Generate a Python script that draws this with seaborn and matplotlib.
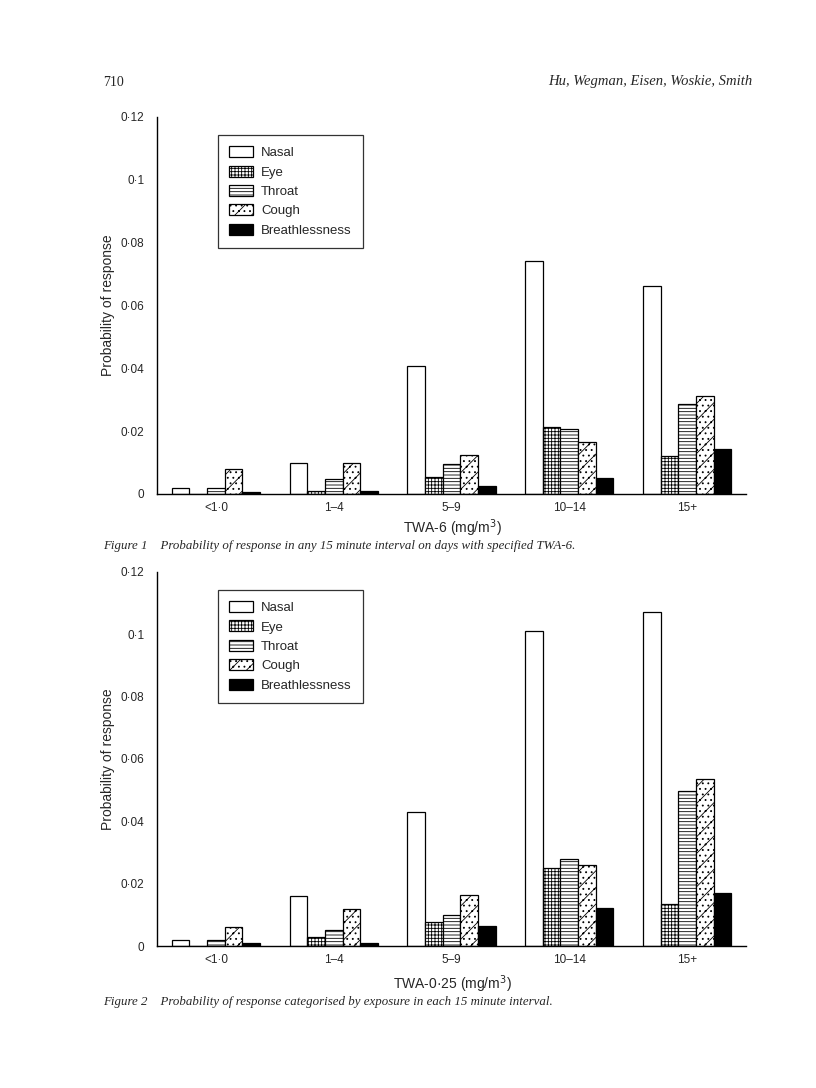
import pandas as pd
import matplotlib.pyplot as plt
import seaborn as sns
from matplotlib.patches import Patch
from matplotlib.ticker import FixedLocator

# Exposure groups and symptoms
exposure = ["<1·0", "1–4", "5–9", "10–14", "15+"]
symptoms = ["Nasal", "Eye", "Throat", "Cough", "Breathlessness"]

# Figure 1: TWA-6
fig1_nasal = [0.002, 0.010, 0.0407, 0.0743, 0.0663]
fig1_eye = [0.0, 0.001, 0.0055, 0.0212, 0.0122]
fig1_throat = [0.002, 0.0047, 0.0095, 0.0206, 0.0285]
fig1_cough = [0.0078, 0.0098, 0.0123, 0.0166, 0.0313]
fig1_breath = [0.0005, 0.0009, 0.0026, 0.0052, 0.0143]

# Figure 2: TWA-0.25
fig2_nasal = [0.002, 0.016, 0.0429, 0.1012, 0.1070]
fig2_eye = [0.0, 0.003, 0.0078, 0.0250, 0.0134]
fig2_throat = [0.002, 0.005, 0.0099, 0.0280, 0.0498]
fig2_cough = [0.0062, 0.0119, 0.0163, 0.0261, 0.0537]
fig2_breath = [0.001, 0.001, 0.0063, 0.0122, 0.0171]

yticks = [0, 0.02, 0.04, 0.06, 0.08, 0.1, 0.12]
ytick_labels = ["0", "0·02", "0·04", "0·06", "0·08", "0·1", "0·12"]

faces = ["white", "white", "white", "white", "black"]
hatches = ["", "+++++", "-----", "//...", ""]

sns.set_style("white")
plt.rcParams["font.family"] = ["Liberation Sans", "DejaVu Sans"]
plt.rcParams["hatch.linewidth"] = 0.6


def make_df(series):
    rows = []
    for sym, vals in zip(symptoms, series):
        for ex, v in zip(exposure, vals):
            rows.append({"exposure": ex, "symptom": sym, "prob": v})
    return pd.DataFrame(rows)


def draw_panel(ax, df):
    sns.barplot(data=df, x="exposure", y="prob", hue="symptom",
                order=exposure, hue_order=symptoms, width=0.75,
                edgecolor="black", linewidth=0.9, legend=False, ax=ax)
    for cont, fc, h in zip(ax.containers, faces, hatches):
        for bar in cont:
            bar.set_facecolor(fc)
            bar.set_hatch(h)
            bar.set_edgecolor("black")
    ax.set_xlim(-0.5, 4.5)
    ax.set_ylim(0, 0.12)
    ax.set_yticks(yticks)
    ax.set_yticklabels(ytick_labels, fontsize=8.5)
    ax.set_xticks(range(len(exposure)))
    ax.set_xticklabels(exposure, fontsize=8.5)
    ax.xaxis.set_minor_locator(FixedLocator([0.5, 1.5, 2.5, 3.5, 4.5]))
    ax.tick_params(axis="x", which="major", length=0, pad=6)
    ax.tick_params(axis="x", which="minor", direction="in", length=5, width=0.9)
    ax.tick_params(axis="y", direction="out", length=6, width=0.9, pad=3)
    for s in ["top", "right"]:
        ax.spines[s].set_visible(False)
    for s in ["left", "bottom"]:
        ax.spines[s].set_color("black")
        ax.spines[s].set_linewidth(1.0)
    ax.set_xlabel("")
    ax.set_ylabel("Probability of response", fontsize=10, labelpad=4)
    handles = [Patch(facecolor=fc, edgecolor="black", hatch=h, linewidth=0.9)
               for fc, h in zip(faces, hatches)]
    leg = ax.legend(handles, symptoms, loc="upper left",
                    bbox_to_anchor=(0.1036, 0.952), fontsize=9.5,
                    frameon=True, fancybox=False, borderpad=0.85,
                    labelspacing=0.48, handlelength=1.8, handleheight=0.9,
                    handletextpad=0.6, borderaxespad=0)
    leg.get_frame().set_edgecolor("black")
    leg.get_frame().set_linewidth(0.9)


fig = plt.figure(figsize=(8.16, 10.88), dpi=100)
ax1 = fig.add_axes([0.1924, 0.5460, 0.7218, 0.3465])
ax2 = fig.add_axes([0.1924, 0.1305, 0.7218, 0.3438])

draw_panel(ax1, make_df([fig1_nasal, fig1_eye, fig1_throat, fig1_cough, fig1_breath]))
draw_panel(ax2, make_df([fig2_nasal, fig2_eye, fig2_throat, fig2_cough, fig2_breath]))

# axis titles placed in figure coordinates, as in the printed page
fig.text(452 / 816, 1 - 528 / 1088, "TWA-6 (mg/m$^3$)", fontsize=10,
         ha="center", va="center")
fig.text(452 / 816, 1 - 984 / 1088, "TWA-0·25 (mg/m$^3$)", fontsize=10,
         ha="center", va="center")

serif = ["Liberation Serif", "DejaVu Serif"]
fig.text(103 / 816, 1 - 82 / 1088, "710", family=serif, fontsize=10, va="center")
fig.text(752 / 816, 1 - 82 / 1088, "Hu, Wegman, Eisen, Woskie, Smith",
         family=serif, style="italic", fontsize=10.5, ha="right", va="center")
fig.text(103 / 816, 1 - 546 / 1088,
         "Figure 1    Probability of response in any 15 minute interval on days with specified TWA-6.",
         family=serif, style="italic", fontsize=9.3, va="center")
fig.text(103 / 816, 1 - 1002 / 1088,
         "Figure 2    Probability of response categorised by exposure in each 15 minute interval.",
         family=serif, style="italic", fontsize=9.3, va="center")

fig.savefig("out.png", dpi=100)
